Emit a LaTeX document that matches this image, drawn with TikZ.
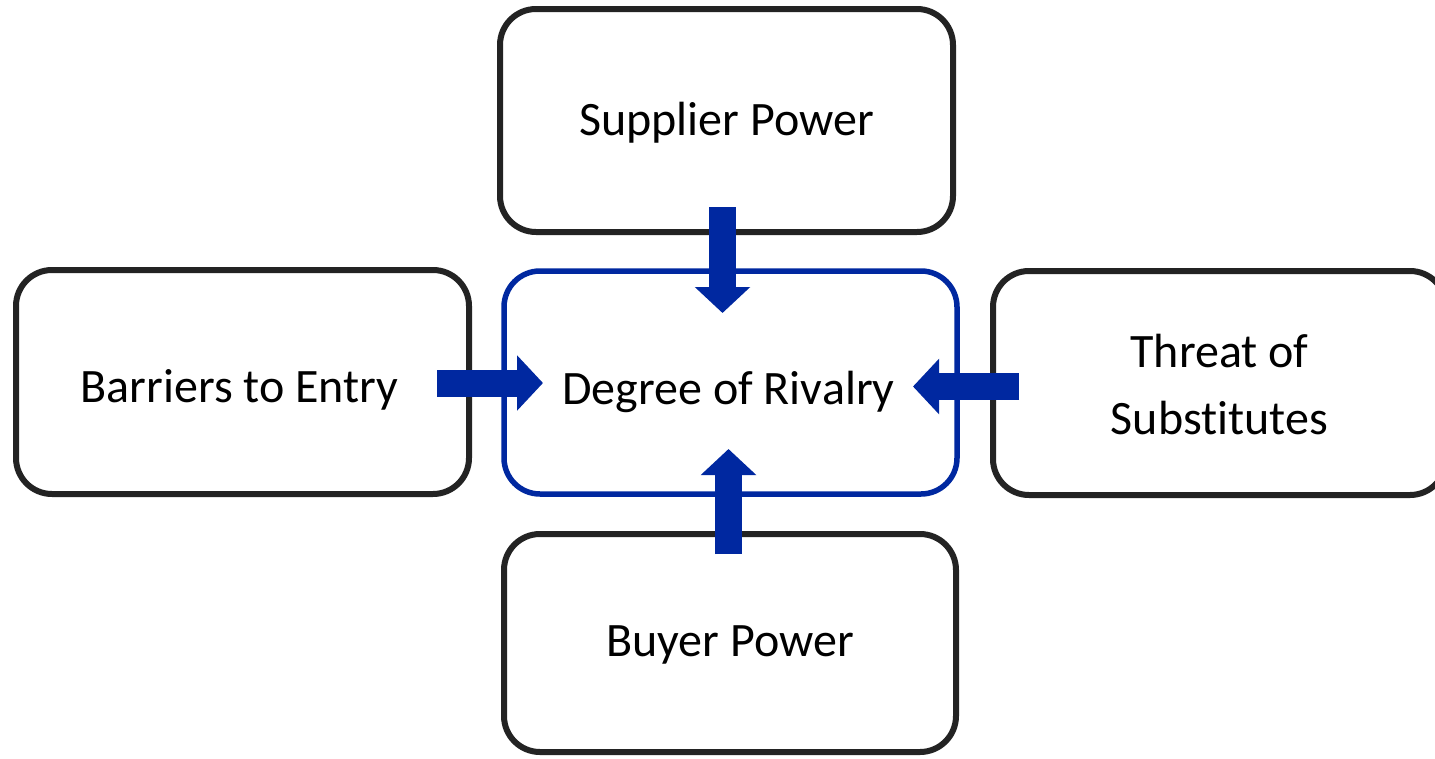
\documentclass[tikz,border=0pt]{standalone}
\usepackage{fontspec}
\setmainfont{Carlito}[Ligatures=NoCommon]
\usetikzlibrary{arrows.meta}
\definecolor{boxblack}{RGB}{35,35,35}
\definecolor{rivalblue}{RGB}{0,40,160}
\newcommand\lowertext[2]{\raisebox{-#1}[\height][\depth]{#2}}
\tikzset{
  forcebox/.style={draw=boxblack, line width=6pt, rounded corners=36pt, fill=white,
    minimum width=453pt, minimum height=223pt, inner sep=0pt, align=center,
    font=\fontsize{48}{67}\selectfont},
  rivalbox/.style={forcebox, draw=rivalblue, line width=5.5pt},
  blockarrow/.style={draw=rivalblue, line width=27pt,
    -{Triangle[width=54pt,length=26pt]}, line cap=butt}
}
\begin{document}
\begin{tikzpicture}[x=1pt,y=-1pt]
\useasboundingbox (0,0) rectangle (1435,758);
\clip (0,0) rectangle (1435,758);
\node[forcebox] (sup) at (726.5,120.5) {\lowertext{2pt}{Supplier Power}};
\node[forcebox, minimum height=224pt] (bar) at (242.5,382) {\lowertext{8pt}{\hspace*{-6pt}Barriers to Entry}};
\node[rivalbox] (deg) at (730.5,382.5) {\lowertext{9pt}{\hspace*{-4pt}Degree of Rivalry}};
\node[forcebox, minimum height=224pt] (thr) at (1219.5,383) {\lowertext{5pt}{\begin{tabular}{@{}c@{}}Threat of\\Substitutes\end{tabular}}};
\node[forcebox, minimum width=452pt, minimum height=218pt] (buy) at (730,643) {\lowertext{2pt}{Buyer Power}};
% arrow end points
\coordinate (supA) at (722.5,207);
\coordinate (supT) at (722.5,313);
\coordinate (barA) at (437,383);
\coordinate (barT) at (543,383);
\coordinate (thrA) at (1019,386.5);
\coordinate (thrT) at (913,386.5);
\coordinate (buyA) at (728.5,554);
\coordinate (buyT) at (728.5,449);
\draw[blockarrow] (supA) -- (supT);
\draw[blockarrow] (barA) -- (barT);
\draw[blockarrow] (thrA) -- (thrT);
\draw[blockarrow] (buyA) -- (buyT);
\end{tikzpicture}
\end{document}
